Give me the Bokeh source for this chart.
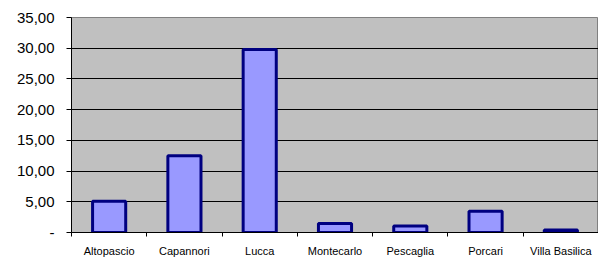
from bokeh.plotting import figure
from bokeh.models import FixedTicker, Range1d, ColumnDataSource
from bokeh.embed import file_html
from bokeh.resources import INLINE

comuni = ["Altopascio", "Capannori", "Lucca", "Montecarlo", "Pescaglia", "Porcari", "Villa Basilica"]
valori = [5.1, 12.5, 29.8, 1.45, 1.05, 3.45, 0.4]
y_ticks = [0, 5, 10, 15, 20, 25, 30, 35]
y_labels = ["-", "5,00", "10,00", "15,00", "20,00", "25,00", "30,00", "35,00"]

n = len(comuni)
centers = [i + 0.5 for i in range(n)]
src = ColumnDataSource(dict(x=centers, top=valori))

p = figure(width=598, height=259, output_backend="svg", toolbar_location=None,
           x_range=Range1d(0, n), y_range=Range1d(0, 35),
           min_border_left=71, min_border_right=0, min_border_top=17, min_border_bottom=25)
p.background_fill_color = "#C0C0C0"
p.border_fill_color = "white"
p.outline_line_color = "#808080"
p.outline_line_width = 1

p.vbar(x="x", top="top", bottom=0, width=0.44, source=src,
       fill_color="#9999FF", line_color="#000080", line_width=3)

# x axis
p.xaxis.ticker = FixedTicker(ticks=centers, minor_ticks=list(range(n + 1)))
p.xaxis.major_label_overrides = {c: name for c, name in zip(centers, comuni)}
p.xaxis.major_tick_line_color = None
p.xaxis.minor_tick_line_color = "black"
p.xaxis.minor_tick_out = 4
p.xaxis.minor_tick_in = 0
p.xaxis.major_label_standoff = 6
p.xaxis.major_label_text_font = "Liberation Sans"
p.xaxis.major_label_text_font_size = "11px"
p.xaxis.major_label_text_color = "black"
p.xaxis.axis_line_color = "black"

# y axis
p.yaxis.ticker = FixedTicker(ticks=y_ticks, minor_ticks=[])
p.yaxis.major_label_overrides = {t: l for t, l in zip(y_ticks, y_labels)}
p.yaxis.major_tick_out = 5
p.yaxis.major_tick_in = 0
p.yaxis.major_label_standoff = 12
p.yaxis.major_label_text_font = "Liberation Sans"
p.yaxis.major_label_text_font_size = "15px"
p.yaxis.major_label_text_color = "black"
p.yaxis.axis_line_color = "black"

p.xgrid.grid_line_color = None
p.ygrid.ticker = FixedTicker(ticks=y_ticks)
p.ygrid.grid_line_color = "black"
p.ygrid.grid_line_width = 1

open("out.html", "w").write(file_html(p, INLINE))
